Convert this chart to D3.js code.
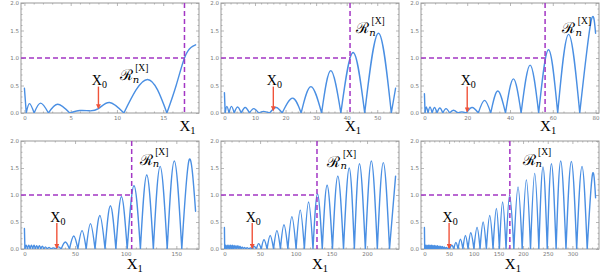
<!DOCTYPE html>
<html>
<head>
<meta charset="utf-8">
<script src="https://cdn.jsdelivr.net/npm/d3@7"></script>
<style>
  body { margin: 0; background: #fff; }
  .tick text { font-family: "DejaVu Sans", sans-serif; font-size: 5.5px; fill: #777; }
  .tick line { stroke: #999; }
</style>
</head>
<body>
<svg id="chart" width="600" height="275"></svg>
<script>
// ---- data ----
var xMax = [18.5, 56, 80, 169, 240, 347];
var xTicks = [
  [0, 5, 10, 15],
  [0, 10, 20, 30, 40, 50],
  [0, 20, 40, 60, 80],
  [0, 50, 100, 150],
  [0, 50, 100, 150, 200],
  [0, 50, 100, 150, 200, 250, 300]
];
var xMinorStep = [1, 2, 5, 10, 10, 10];
var yTicks = [0, 0.5, 1, 1.5, 2];
var x0Val = [8, 16, 20, 32, 39, 50];
var x0Tip = [0.09, 0.05, 0.03, 0.02, 0.02, 0.02];
var x1Val = [17.3, 41.1, 56.4, 105.9, 129.8, 173.2];

// knots of |R_n^[X]| : zeros are cusps
var curve1 = [[0,0.45],[0.2,0],[0.55,0.17],[1.05,0],[1.75,0.18],[2.6,0],[3.6,0.16],[4.9,0],
  [6.0,0.045],[7.0,0.04],[8.0,0.08],[9.2,0.19],[10.75,0],[13.3,0.61],[15.4,0],
  [16.4,0.5],[17.3,1.0],[18.0,1.19],[18.5,1.24]];
var curve2 = [[0,0.37],[0.25,0],[0.8,0.12],[1.5,0],[2.3,0.12],[3.2,0],[4.3,0.11],[5.5,0],
  [6.8,0.1],[8.2,0],[9.6,0.08],[11.2,0],[12.8,0.03],[14.8,0],[16.9,0.1],[18.9,0],
  [22.3,0.27],[25.1,0],[28.3,0.48],[31.8,0],[34.8,0.77],[38.1,0],[42.1,1.1],[45.9,0],
  [50.4,1.45],[54.6,0],[56,0.45]];
var curve3 = [[0,0.35],[0.3,0],[0.9,0.11],[1.7,0],[2.6,0.11],[3.6,0],[4.7,0.1],[5.9,0],
  [7.2,0.09],[8.6,0],[10.1,0.08],[11.8,0],[13.6,0.05],[15.6,0],[17.5,0.02],[19.5,0],
  [22.3,0.1],[25.2,0],[28.1,0.23],[31.0,0],[34.3,0.4],[37.9,0],[41.6,0.62],[45.2,0],
  [49.4,0.87],[53.4,0],[58.0,1.15],[62.3,0],[67.4,1.43],[72.6,0],[77.8,1.65],[80,1.45]];
var curve4 = [[0,0.38],[0.5,0],[1.7,0.07],[3,0],[4.3,0.07],[5.6,0],[6.9,0.07],[8.2,0],
  [9.5,0.07],[10.8,0],[12.1,0.06],[13.4,0],[14.8,0.06],[16.2,0],[17.7,0.05],[19.2,0],
  [20.8,0.04],[22.5,0],[24.3,0.03],[26.2,0],[28.5,0.02],[31,0],[33.5,0.04],[36.3,0],
  [40.4,0.13],[44.5,0],[48.7,0.24],[52.8,0],[56.9,0.34],[61,0],[65.2,0.47],[69.7,0],
  [74.5,0.62],[79.6,0],[84.9,0.8],[90.3,0],[95.8,0.97],[101.5,0],[108.2,1.17],[114.5,0],
  [120.8,1.37],[127.3,0],[134,1.53],[141,0],[148,1.63],[155.4,0],[162.6,1.65],[169,0.7]];
var curve5 = [[0,0.4],[0.4,0],[1.5,0.07],[2.7,0],[3.9,0.07],[5.1,0],[6.3,0.07],[7.5,0],
  [8.7,0.07],[9.9,0],[11.1,0.07],[12.3,0],[13.6,0.065],[14.9,0],[16.2,0.06],[17.5,0],
  [18.9,0.06],[20.3,0],[21.8,0.05],[23.3,0],[24.9,0.04],[26.5,0],[28.2,0.03],[30,0],
  [32,0.025],[34.2,0],[36.6,0.02],[39,0],[41.6,0.05],[44.8,0],[48,0.1],[51.7,0],
  [55.5,0.17],[59.8,0],[64.2,0.25],[68.9,0],[73.6,0.34],[78.5,0],[83.5,0.45],[89,0],
  [94.6,0.6],[100.5,0],[106.3,0.72],[112.1,0],[118,0.87],[124.2,0],[130.5,1.02],[137.2,0],
  [144,1.18],[151.5,0],[159,1.35],[167,0],[175,1.5],[182.2,0],[189.4,1.58],[197.6,0],
  [206,1.63],[214.4,0],[222.8,1.6],[231.5,0],[240,1.35]];
var curve6 = [[0,0.4],[0.6,0],[2,0.07],[3.5,0],[5,0.07],[6.5,0],[8,0.07],[9.5,0],
  [11,0.07],[12.5,0],[14,0.07],[15.5,0],[17,0.065],[18.5,0],[20,0.065],[21.6,0],
  [23.2,0.06],[24.8,0],[26.4,0.06],[28,0],[29.7,0.055],[31.4,0],[33.1,0.05],[34.9,0],
  [36.7,0.045],[38.5,0],[40.4,0.04],[42.3,0],[44.3,0.03],[46.4,0],[48.6,0.02],[51,0],
  [55.5,0.07],[59.5,0],[63.8,0.12],[68.2,0],[73,0.18],[78,0],[83.1,0.25],[88.5,0],
  [94,0.3],[100.3,0],[106.7,0.4],[112.8,0],[119,0.5],[125.6,0],[132.4,0.62],[139.1,0],
  [145.9,0.75],[152,0],[158.5,0.87],[165.5,0],[172.8,1.0],[181.3,0],[189.8,1.15],[198.2,0],
  [206.7,1.28],[215.1,0],[223.6,1.4],[232,0],[240.4,1.52],[249,0],[257.5,1.58],[267,0],
  [276.3,1.63],[287,0],[297.9,1.62],[308.7,0],[319.5,1.53],[330,0],[340.4,1.37],[347,0.95]];
var curves = [curve1, curve2, curve3, curve4, curve5, curve6];

// ---- layout ----
var colLeft = [21, 221, 421], panelW = 178;
var rowTop = [3, 141], rowH = [110, 108];
// where the R label sits, in data units of each panel
var rLabelAt = [[10.3, 0.6], [43.1, 1.45], [64.5, 1.45], [113.8, 1.56], [144.5, 1.52], [199, 1.56]];

var blue = '#4a8fe3', purple = '#a336c4', red = '#f0533a';

var svg = d3.select('#chart');
svg.append('defs').append('marker')
  .attr('id', 'arrowHead')
  .attr('viewBox', '0 0 10 10')
  .attr('refX', 8).attr('refY', 5)
  .attr('markerWidth', 3.5).attr('markerHeight', 3.5)
  .attr('orient', 'auto')
  .append('path')
  .attr('d', 'M0,0 L10,5 L0,10 z')
  .attr('fill', red);

// split knots at the zeros so every lobe gets its own cusp
function lobes(pts) {
  var segs = [], cur = [pts[0]];
  for (var i = 1; i < pts.length; i++) {
    cur.push(pts[i]);
    if (pts[i][1] === 0 && i < pts.length - 1) {
      segs.push(cur);
      cur = [pts[i]];
    }
  }
  segs.push(cur);
  return segs;
}

curves.forEach(function(pts, i) {
  var col = i % 3, row = Math.floor(i / 3);
  var L = colLeft[col], T = rowTop[row], h = rowH[row];
  var pad = 0.02 * xMax[i];

  var x = d3.scaleLinear().domain([-pad, xMax[i] + pad]).range([L, L + panelW]);
  var y = d3.scaleLinear().domain([0, 2]).range([T + h, T]);

  var g = svg.append('g');

  g.append('clipPath').attr('id', 'clip' + i)
    .append('rect').attr('x', L).attr('y', T).attr('width', panelW).attr('height', h);

  // minor ticks
  var minors = d3.range(0, xMax[i] + pad, xMinorStep[i]).filter(function(v) {
    return xTicks[i].indexOf(v) < 0;
  });
  var yMinors = d3.range(0, 2.01, 0.1).map(function(v) { return +v.toFixed(1); })
    .filter(function(v) { return yTicks.indexOf(v) < 0; });

  var axes = [
    [d3.axisBottom(x).tickValues(xTicks[i]).tickSize(-3).tickPadding(3), 'translate(0,' + (T + h) + ')'],
    [d3.axisBottom(x).tickValues(minors).tickSize(-1.5).tickFormat(''), 'translate(0,' + (T + h) + ')'],
    [d3.axisTop(x).tickValues(xTicks[i]).tickSize(-3).tickFormat(''), 'translate(0,' + T + ')'],
    [d3.axisTop(x).tickValues(minors).tickSize(-1.5).tickFormat(''), 'translate(0,' + T + ')'],
    [d3.axisLeft(y).tickValues(yTicks).tickSize(-3).tickPadding(2).tickFormat(d3.format('.1f')), 'translate(' + L + ',0)'],
    [d3.axisLeft(y).tickValues(yMinors).tickSize(-1.5).tickFormat(''), 'translate(' + L + ',0)'],
    [d3.axisRight(y).tickValues(yTicks).tickSize(-3).tickFormat(''), 'translate(' + (L + panelW) + ',0)'],
    [d3.axisRight(y).tickValues(yMinors).tickSize(-1.5).tickFormat(''), 'translate(' + (L + panelW) + ',0)']
  ];
  axes.forEach(function(a) {
    var ax = g.append('g').attr('transform', a[1]).call(a[0]);
    ax.select('.domain').remove();
    ax.selectAll('.tick line').attr('stroke', '#999').attr('stroke-width', 0.7);
  });

  // frame
  g.append('rect')
    .attr('x', L).attr('y', T).attr('width', panelW).attr('height', h)
    .attr('fill', 'none').attr('stroke', '#999').attr('stroke-width', 1);

  // curve
  var line = d3.line()
    .x(function(d) { return x(d[0]); })
    .y(function(d) { return y(d[1]); })
    .curve(d3.curveNatural);
  g.append('path')
    .attr('d', lobes(pts).map(function(s) { return line(s); }).join(''))
    .attr('fill', 'none')
    .attr('stroke', blue)
    .attr('stroke-width', 1.4)
    .attr('stroke-linecap', 'round')
    .attr('clip-path', 'url(#clip' + i + ')');

  // dashed guides at R = 1 and X = X1
  g.append('line')
    .attr('x1', x(-pad)).attr('x2', x(x1Val[i]))
    .attr('y1', y(1)).attr('y2', y(1))
    .attr('stroke', purple).attr('stroke-width', 1.5).attr('stroke-dasharray', '5,3');
  g.append('line')
    .attr('x1', x(x1Val[i])).attr('x2', x(x1Val[i]))
    .attr('y1', y(2)).attr('y2', y(0))
    .attr('stroke', purple).attr('stroke-width', 1.5).attr('stroke-dasharray', '5,3');

  // X0 arrow
  g.append('line')
    .attr('x1', x(x0Val[i])).attr('x2', x(x0Val[i]))
    .attr('y1', y(0.48)).attr('y2', y(x0Tip[i]))
    .attr('stroke', red).attr('stroke-width', 1.4)
    .attr('marker-end', 'url(#arrowHead)');

  var x0Label = g.append('text')
    .attr('x', x(x0Val[i]) + 1).attr('y', y(0.48) - 1.5)
    .attr('text-anchor', 'middle')
    .style('font-family', '"Liberation Serif", serif')
    .style('font-size', '14px')
    .text('X');
  x0Label.append('tspan').attr('dy', 3).style('font-size', '10px').text('0');

  var x1Label = g.append('text')
    .attr('x', x(x1Val[i]) + 3).attr('y', T + h + (row === 0 ? 18 : 20))
    .attr('text-anchor', 'middle')
    .style('font-family', '"Liberation Serif", serif')
    .style('font-size', '15px')
    .text('X');
  x1Label.append('tspan').attr('dy', 3).style('font-size', '10.5px').text('1');

  // R_n^[X] label
  var rl = g.append('text')
    .attr('x', x(rLabelAt[i][0])).attr('y', y(rLabelAt[i][1]))
    .style('font-family', '"DejaVu Serif", serif')
    .style('font-size', '15px')
    .text('\u211B');
  rl.append('tspan').attr('dy', 2.5).style('font-size', '10px').style('font-style', 'italic').text('n');
  rl.append('tspan').attr('dx', -4).attr('dy', -12).style('font-size', '9.5px')
    .style('font-family', '"Liberation Serif", serif').text('[X]');
});
</script>
</body>
</html>
